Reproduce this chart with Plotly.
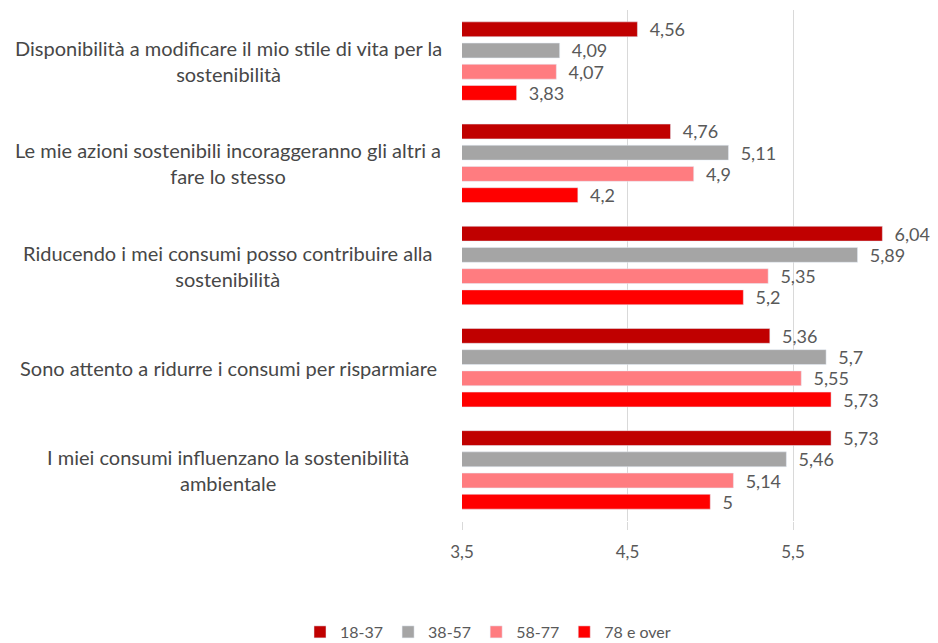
import plotly.graph_objects as go

categories = [
    "Disponibilità a modificare il mio stile di vita per la<br>sostenibilità",
    "Le mie azioni sostenibili incoraggeranno gli altri a<br>fare lo stesso",
    "Riducendo i mei consumi posso contribuire alla<br>sostenibilità",
    "Sono attento a ridurre i consumi per risparmiare",
    "I miei consumi influenzano la sostenibilità<br>ambientale",
]
series_names = ["18-37", "38-57", "58-77", "78 e over"]
v_18_37 = [4.56, 4.76, 6.04, 5.36, 5.73]
v_38_57 = [4.09, 5.11, 5.89, 5.7, 5.46]
v_58_77 = [4.07, 4.9, 5.35, 5.55, 5.14]
v_78_over = [3.83, 4.2, 5.2, 5.73, 5]
tick_values = [3.5, 4.5, 5.5]

colors = ["#C00000", "#A5A5A5", "#FF7C80", "#FF0000"]
all_values = [v_18_37, v_38_57, v_58_77, v_78_over]

# the page body adds an 8px margin, so work in page pixels minus that
OFF = 8
W, H = 938 - OFF, 643 - OFF
L, R, T, B = 462 - OFF, 0, 10 - OFF, 122
plot_w = W - L - R
plot_h = H - T - B

fig = go.Figure()
for name, vals, col in zip(series_names, all_values, colors):
    fig.add_trace(go.Bar(
        y=categories, x=vals, name=name, orientation="h",
        marker_color=col,
        text=["  " + str(v).replace(".", ",") for v in vals],
        textposition="outside", cliponaxis=False, constraintext="none",
        textfont=dict(size=18, color="#595959"),
    ))

# category labels centred on the left, like the original
for cat in categories:
    fig.add_annotation(
        text=cat, xref="paper", yref="y", x=(228 - OFF - L) / plot_w, y=cat,
        xanchor="center", yanchor="middle", align="center", showarrow=False,
        font=dict(size=20, color="#474747"),
    )

fig.update_layout(
    width=W, height=H,
    margin=dict(l=L, r=R, t=T, b=B, autoexpand=False),
    paper_bgcolor="white", plot_bgcolor="white",
    font=dict(family="Lato", color="#595959"),
    separators=",.",
    barmode="group", bargap=0.17, bargroupgap=0.3,
    legend=dict(orientation="h", x=(488 - OFF - L) / plot_w, xanchor="center",
                y=-(632 - OFF - (T + plot_h)) / plot_h, yanchor="middle",
                font=dict(size=16, color="#595959"), traceorder="normal",
                itemwidth=30),
)
fig.update_xaxes(
    range=[3.5, 3.5 + plot_w / 165.5], tickvals=tick_values, tickformat=".1f",
    showgrid=True, gridcolor="#D9D9D9", gridwidth=1.3, zeroline=False,
    ticks="outside", ticklen=8, tickcolor="#D9D9D9", ticklabelstandoff=8,
    tickfont=dict(size=17, color="#595959"), automargin=False,
)
fig.update_yaxes(autorange="reversed", showticklabels=False, showgrid=False,
                 automargin=False)

fig.write_html("out.html")
